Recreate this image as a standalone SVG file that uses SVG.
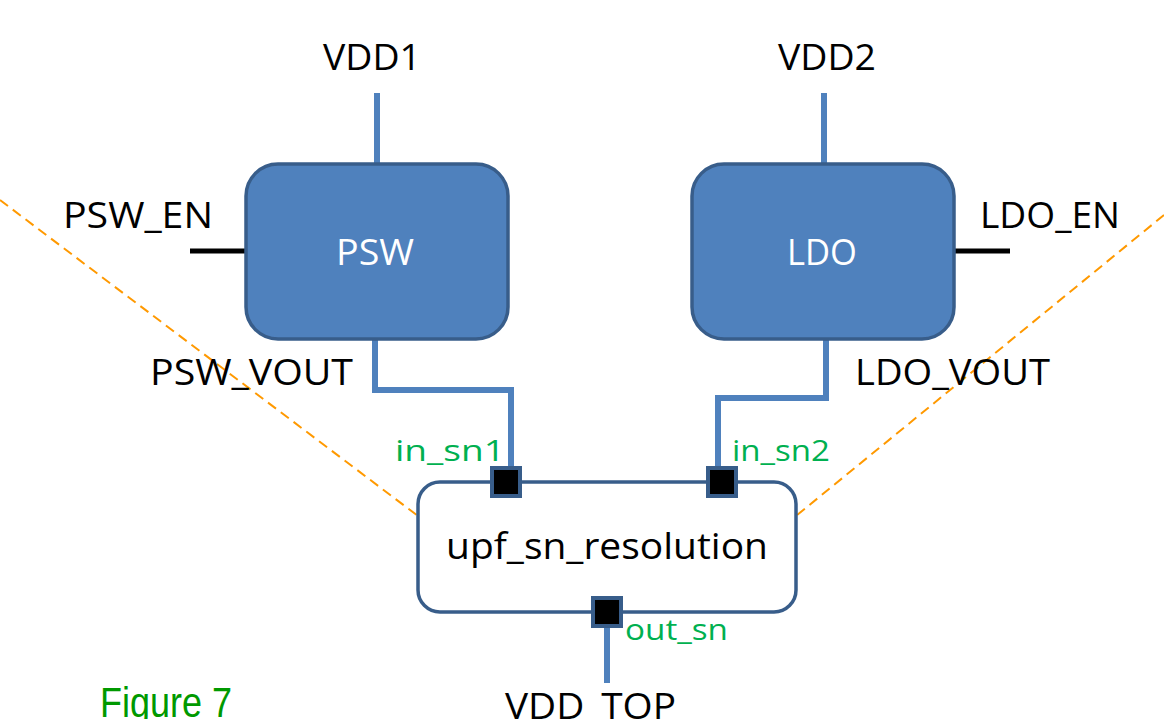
<svg xmlns="http://www.w3.org/2000/svg" width="1164" height="719" viewBox="0 0 1164 719">
<style>
.lbl{font-family:"Open Sans","Liberation Sans",Arial,sans-serif;font-size:37px;fill:#000}
.wht{font-family:"Open Sans","Liberation Sans",Arial,sans-serif;font-size:37px;fill:#fff}
.grn{font-family:"Open Sans","Liberation Sans",Arial,sans-serif;font-size:29px;fill:#00B050}
.blk{fill:#4F81BD;stroke:#385D8A;stroke-width:3.5}
.wire{fill:none;stroke:#4F81BD;stroke-width:6}
.en{stroke:#000;stroke-width:5}
.port{fill:#000;stroke:#385D8A;stroke-width:4}
.guide{stroke:#FF9900;stroke-width:2;stroke-dasharray:10 6;fill:none}
</style>
<rect width="1164" height="719" fill="#fff"/>
<g id="guides">
<line class="guide" x1="0" y1="200" x2="418" y2="516"/>
<line class="guide" x1="1164" y1="215" x2="796" y2="516"/>
</g>
<g id="connectors">
<line class="wire" x1="377" y1="93" x2="377" y2="164"/>
<line class="wire" x1="824" y1="93" x2="824" y2="164"/>
<line class="en" x1="190" y1="251" x2="246" y2="251"/>
<line class="en" x1="954" y1="251" x2="1010" y2="251"/>
<polyline class="wire" points="375,339 375,390 511,390 511,470"/>
<polyline class="wire" points="826,339 826,398 718,398 718,470"/>
<line class="wire" x1="607" y1="612" x2="607" y2="683"/>
</g>
<g id="psw">
<rect class="blk" x="246" y="164" width="262" height="175" rx="32"/>
<text class="wht" x="375" y="265" text-anchor="middle" textLength="78" lengthAdjust="spacingAndGlyphs">PSW</text>
</g>
<g id="ldo">
<rect class="blk" x="692" y="164" width="262" height="175" rx="32"/>
<text class="wht" x="822" y="265" text-anchor="middle" textLength="70" lengthAdjust="spacingAndGlyphs">LDO</text>
</g>
<g id="upf">
<rect x="418" y="482" width="378" height="130" rx="22" fill="#fff" stroke="#385D8A" stroke-width="3.5"/>
<text class="lbl" x="607" y="559" text-anchor="middle" textLength="322" lengthAdjust="spacingAndGlyphs">upf_sn_resolution</text>
<rect class="port" x="492" y="468" width="28" height="28"/>
<rect class="port" x="708" y="468" width="28" height="28"/>
<rect class="port" x="593" y="598" width="28" height="28"/>
</g>
<g id="labels">
<text class="lbl" x="372" y="70" text-anchor="middle" textLength="98" lengthAdjust="spacingAndGlyphs">VDD1</text>
<text class="lbl" x="827" y="70" text-anchor="middle" textLength="98" lengthAdjust="spacingAndGlyphs">VDD2</text>
<text class="lbl" x="63" y="228" textLength="150" lengthAdjust="spacingAndGlyphs">PSW_EN</text>
<text class="lbl" x="980" y="228" textLength="140" lengthAdjust="spacingAndGlyphs">LDO_EN</text>
<text class="lbl" x="150" y="385" textLength="203" lengthAdjust="spacingAndGlyphs">PSW_VOUT</text>
<text class="lbl" x="855" y="385" textLength="195" lengthAdjust="spacingAndGlyphs">LDO_VOUT</text>
<text class="grn" x="395" y="461" textLength="110" lengthAdjust="spacingAndGlyphs">in_sn1</text>
<text class="grn" x="732" y="461" textLength="98" lengthAdjust="spacingAndGlyphs">in_sn2</text>
<text class="grn" x="625" y="640" textLength="103" lengthAdjust="spacingAndGlyphs">out_sn</text>
<text class="lbl" x="505" y="719" textLength="171" lengthAdjust="spacingAndGlyphs">VDD_TOP</text>
<text x="100" y="717" font-family="'Liberation Sans Narrow','Liberation Sans',Arial,sans-serif" font-size="42" fill="#009900" textLength="132" lengthAdjust="spacingAndGlyphs">Figure 7</text>
</g>
</svg>
